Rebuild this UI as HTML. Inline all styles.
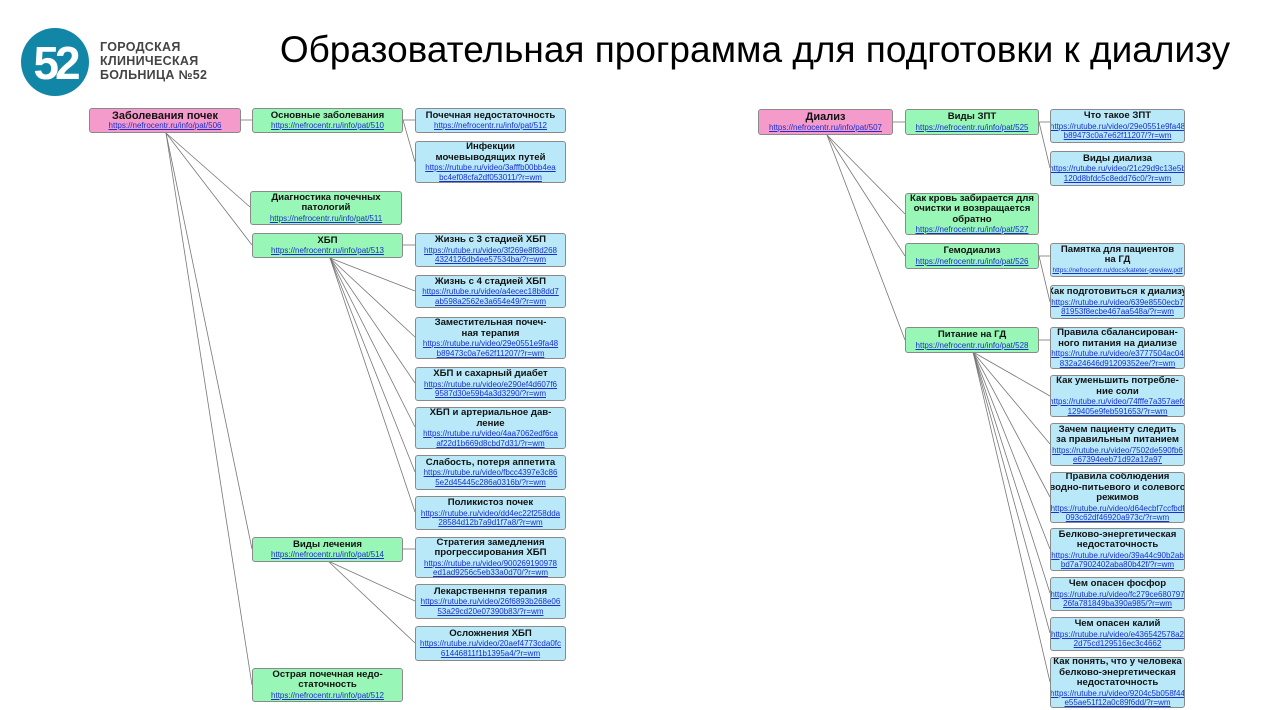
<!DOCTYPE html>
<html><head><meta charset="utf-8"><style>
body{margin:0;width:1274px;height:710px;background:#fff;position:relative;overflow:hidden;font-family:"Liberation Sans","DejaVu Sans",sans-serif;}
.b{position:absolute;box-sizing:border-box;border:1px solid #8a8a8a;border-radius:3px;display:flex;flex-direction:column;justify-content:center;align-items:center;text-align:center;font-size:9.6px;line-height:10.5px;color:#111;overflow:hidden;white-space:nowrap;font-weight:bold;}
.b u{color:#1a2fd0;font-size:8px;line-height:9.5px;font-weight:normal;}
.p{background:#f59bcc;font-weight:bold;font-size:11px;}
.g{background:#98f6b6;}
.c{background:#b9e9f9;}
svg{position:absolute;left:0;top:0;}
</style></head><body>
<svg width="1274" height="710">
<circle cx="55" cy="62" r="34" fill="#1186a6"/>
<text x="55" y="79" font-family="Liberation Sans" font-weight="bold" font-size="46" fill="#fff" text-anchor="middle" letter-spacing="-4">52</text>
<g stroke="#777" stroke-width="0.8" fill="none">
<line x1="241" y1="120" x2="252" y2="120"/>
<line x1="166" y1="133" x2="250" y2="207"/>
<line x1="166" y1="133" x2="252" y2="245"/>
<line x1="166" y1="133" x2="252" y2="549"/>
<line x1="166" y1="133" x2="252" y2="685"/>
<line x1="403" y1="120" x2="415" y2="120"/>
<line x1="403" y1="120" x2="415" y2="162"/>
<line x1="403" y1="245" x2="415" y2="245"/>
<line x1="330" y1="258" x2="415" y2="291"/>
<line x1="330" y1="258" x2="415" y2="337"/>
<line x1="330" y1="258" x2="415" y2="383"/>
<line x1="330" y1="258" x2="415" y2="427"/>
<line x1="330" y1="258" x2="415" y2="472"/>
<line x1="330" y1="258" x2="415" y2="512"/>
<line x1="403" y1="549" x2="415" y2="549"/>
<line x1="328" y1="561" x2="415" y2="601"/>
<line x1="328" y1="561" x2="415" y2="643"/>
<line x1="893" y1="122" x2="905" y2="122"/>
<line x1="827" y1="135" x2="905" y2="214"/>
<line x1="827" y1="135" x2="905" y2="256"/>
<line x1="827" y1="135" x2="905" y2="340"/>
<line x1="1039" y1="122" x2="1050" y2="122"/>
<line x1="1039" y1="122" x2="1050" y2="168"/>
<line x1="1039" y1="256" x2="1050" y2="256"/>
<line x1="1039" y1="256" x2="1050" y2="302"/>
<line x1="1039" y1="340" x2="1050" y2="340"/>
<line x1="973" y1="352" x2="1050" y2="396"/>
<line x1="973" y1="352" x2="1050" y2="444"/>
<line x1="973" y1="352" x2="1050" y2="497"/>
<line x1="973" y1="352" x2="1050" y2="549"/>
<line x1="973" y1="352" x2="1050" y2="593"/>
<line x1="973" y1="352" x2="1050" y2="633"/>
<line x1="973" y1="352" x2="1050" y2="682"/>
</g>
</svg>
<div style="position:absolute;left:100px;top:40px;font-size:12.5px;line-height:14px;color:#444;letter-spacing:0.3px;font-weight:bold">ГОРОДСКАЯ<br>КЛИНИЧЕСКАЯ<br>БОЛЬНИЦА №52</div>
<div style="position:absolute;left:0;width:1510px;top:29px;text-align:center;font-size:37px;color:#000">Образовательная программа для подготовки к диализу</div>

<div class="b p" style="left:89px;top:108px;width:152px;height:25px">Заболевания почек<u>https://nefrocentr.ru/info/pat/506</u></div>
<div class="b g" style="left:252px;top:108px;width:151px;height:25px">Основные заболевания<u>https://nefrocentr.ru/info/pat/510</u></div>
<div class="b c" style="left:415px;top:108px;width:151px;height:25px">Почечная недостаточность<u>https://nefrocentr.ru/info/pat/512</u></div>
<div class="b c" style="left:415px;top:141px;width:151px;height:42px">Инфекции<br>мочевыводящих путей<u>https://rutube.ru/video/3afffb00bb4ea<br>bc4ef08cfa2df053011/?r=wm</u></div>
<div class="b g" style="left:250px;top:191px;width:152px;height:34px">Диагностика почечных<br>патологий<u>https://nefrocentr.ru/info/pat/511</u></div>
<div class="b g" style="left:252px;top:233px;width:151px;height:25px">ХБП<u>https://nefrocentr.ru/info/pat/513</u></div>
<div class="b c" style="left:415px;top:233px;width:151px;height:34px">Жизнь с 3 стадией ХБП<u>https://rutube.ru/video/3f269e8f8d268<br>4324126db4ee57534ba/?r=wm</u></div>
<div class="b c" style="left:415px;top:275px;width:151px;height:33px">Жизнь с 4 стадией ХБП<u>https://rutube.ru/video/a4ecec18b8dd7<br>ab598a2562e3a654e49/?r=wm</u></div>
<div class="b c" style="left:415px;top:317px;width:151px;height:42px">Заместительная почеч-<br>ная терапия<u>https://rutube.ru/video/29e0551e9fa48<br>b89473c0a7e62f11207/?r=wm</u></div>
<div class="b c" style="left:415px;top:367px;width:151px;height:34px">ХБП и сахарный диабет<u>https://rutube.ru/video/e290ef4d607f6<br>9587d30e59b4a3d3290/?r=wm</u></div>
<div class="b c" style="left:415px;top:407px;width:151px;height:42px">ХБП и артериальное дав-<br>ление<u>https://rutube.ru/video/4aa7062edf6ca<br>af22d1b669d8cbd7d31/?r=wm</u></div>
<div class="b c" style="left:415px;top:455px;width:151px;height:35px">Слабость, потеря аппетита<u>https://rutube.ru/video/fbcc4397e3c86<br>5e2d45445c286a0316b/?r=wm</u></div>
<div class="b c" style="left:415px;top:496px;width:151px;height:34px">Поликистоз почек<u>https://rutube.ru/video/dd4ec22f258dda<br>28584d12b7a9d1f7a8/?r=wm</u></div>
<div class="b g" style="left:252px;top:537px;width:151px;height:25px">Виды лечения<u>https://nefrocentr.ru/info/pat/514</u></div>
<div class="b c" style="left:415px;top:537px;width:151px;height:41px">Стратегия замедления<br>прогрессирования ХБП<u>https://rutube.ru/video/900269190978<br>ed1ad9256c5eb33a0d70/?r=wm</u></div>
<div class="b c" style="left:415px;top:584px;width:151px;height:35px">Лекарственнпя терапия<u>https://rutube.ru/video/26f6893b268e06<br>53a29cd20e07390b83/?r=wm</u></div>
<div class="b c" style="left:415px;top:626px;width:151px;height:35px">Осложнения ХБП<u>https://rutube.ru/video/20aef4773cda0fc<br>61446811f1b1395a4/?r=wm</u></div>
<div class="b g" style="left:252px;top:668px;width:151px;height:34px">Острая почечная недо-<br>статочность<u>https://nefrocentr.ru/info/pat/512</u></div>

<div class="b p" style="left:758px;top:109px;width:135px;height:26px">Диализ<u>https://nefrocentr.ru/info/pat/507</u></div>
<div class="b g" style="left:905px;top:109px;width:134px;height:26px">Виды ЗПТ<u>https://nefrocentr.ru/info/pat/525</u></div>
<div class="b c" style="left:1050px;top:109px;width:135px;height:34px">Что такое ЗПТ<u>https://rutube.ru/video/29e0551e9fa48<br>b89473c0a7e62f11207/?r=wm</u></div>
<div class="b c" style="left:1050px;top:151px;width:135px;height:35px">Виды диализа<u>https://rutube.ru/video/21c29d9c13e5b<br>120d8bfdc5c8edd76c0/?r=wm</u></div>
<div class="b g" style="left:905px;top:193px;width:134px;height:42px">Как кровь забирается для<br>очистки и возвращается<br>обратно<u>https://nefrocentr.ru/info/pat/527</u></div>
<div class="b g" style="left:905px;top:243px;width:134px;height:26px">Гемодиализ<u>https://nefrocentr.ru/info/pat/526</u></div>
<div class="b c" style="left:1050px;top:243px;width:135px;height:34px">Памятка для пациентов<br>на ГД<u style="font-size:6.6px">https://nefrocentr.ru/docs/kateter-preview.pdf</u></div>
<div class="b c" style="left:1050px;top:285px;width:135px;height:34px">Как подготовиться к диализу<u>https://rutube.ru/video/639e8550ecb7<br>81953f8ecbe467aa548a/?r=wm</u></div>
<div class="b g" style="left:905px;top:327px;width:134px;height:26px">Питание на ГД<u>https://nefrocentr.ru/info/pat/528</u></div>
<div class="b c" style="left:1050px;top:327px;width:135px;height:42px">Правила сбалансирован-<br>ного питания на диализе<u>https://rutube.ru/video/e3777504ac04<br>832a24646d91209352ee/?r=wm</u></div>
<div class="b c" style="left:1050px;top:375px;width:135px;height:42px">Как уменьшить потребле-<br>ние соли<u>https://rutube.ru/video/74fffe7a357aefc<br>129405e9feb591653/?r=wm</u></div>
<div class="b c" style="left:1050px;top:423px;width:135px;height:43px">Зачем пациенту следить<br>за правильным питанием<u>https://rutube.ru/video/7502de590fb6<br>e67394eeb71d92a12a97</u></div>
<div class="b c" style="left:1050px;top:472px;width:135px;height:51px">Правила соблюдения<br>водно-питьевого и солевого<br>режимов<u>https://rutube.ru/video/d64ecbf7ccfbdf<br>093c62df46920a973c/?r=wm</u></div>
<div class="b c" style="left:1050px;top:528px;width:135px;height:43px">Белково-энергетическая<br>недостаточность<u>https://rutube.ru/video/39a44c90b2ab<br>bd7a7902402aba80b42f/?r=wm</u></div>
<div class="b c" style="left:1050px;top:577px;width:135px;height:34px">Чем опасен фосфор<u>https://rutube.ru/video/fc279ce680797<br>26fa781849ba390a985/?r=wm</u></div>
<div class="b c" style="left:1050px;top:617px;width:135px;height:34px">Чем опасен калий<u>https://rutube.ru/video/e436542578a2<br>2d75cd129516ec3c4662</u></div>
<div class="b c" style="left:1050px;top:657px;width:135px;height:51px">Как понять, что у человека<br>белково-энергетическая<br>недостаточность<u>https://rutube.ru/video/9204c5b058f44<br>e55ae51f12a0c89f6dd/?r=wm</u></div>
</body></html>
